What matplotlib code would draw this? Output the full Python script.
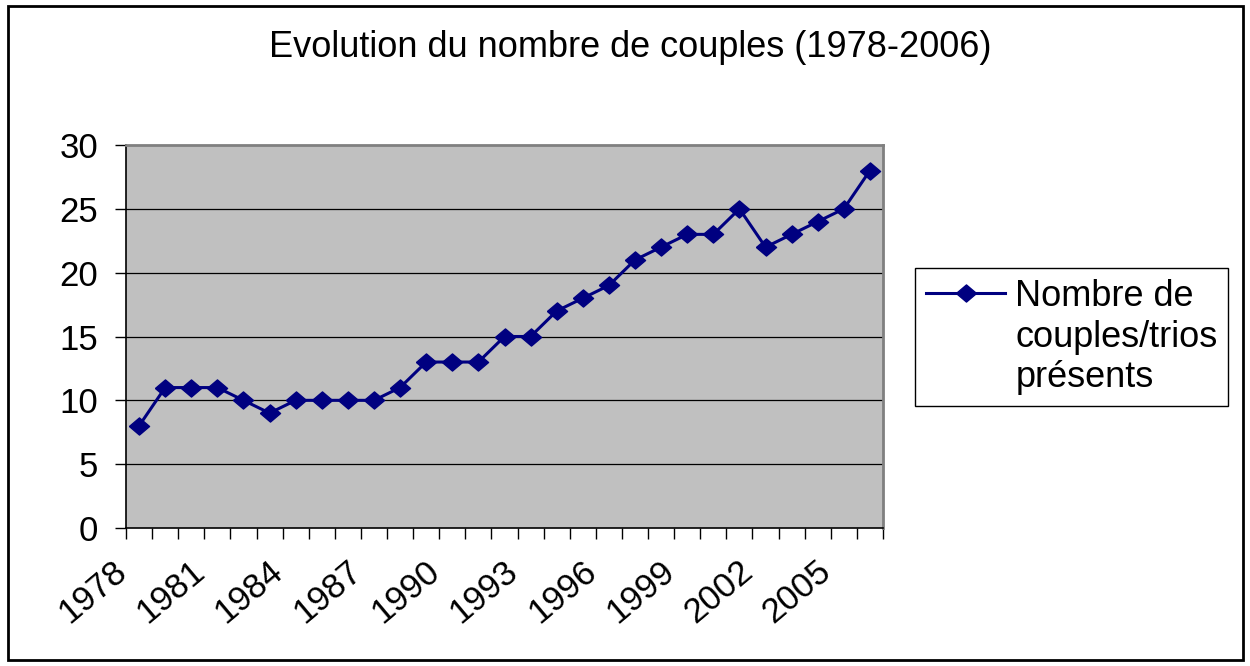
import numpy as np
import matplotlib.pyplot as plt
from matplotlib.patches import Rectangle
from matplotlib.lines import Line2D
from matplotlib.transforms import ScaledTranslation

plt.rcParams['font.family'] = ['Liberation Sans', 'DejaVu Sans']

#<---------------------------- Donnees ---------------------------->
annees = list(range(1978, 2007))
couples = [8, 11, 11, 11, 10, 9, 10, 10, 10, 10, 11, 13, 13, 13, 15, 15,
           17, 18, 19, 21, 22, 23, 23, 25, 22, 23, 24, 25, 28]
annees_label = [str(a) for a in annees[::3]]
titre = "Evolution du nombre de couples (1978-2006)"
legende = ["Nombre de", "couples/trios", "présents"]

bleu = "#000080"
losange = [(-1, 0), (0, 0.85), (1, 0), (0, -0.85), (-1, 0)]

fig = plt.figure(figsize=(12.5, 6.66), dpi=100)
ax = fig.add_axes([126/1250, 1-528/666, (883-126)/1250, (528-145)/666])
ax.set_facecolor("#C0C0C0")

x = np.arange(len(annees))
ax.plot(x, couples, color=bleu, lw=2.2, marker=losange, ms=14.5,
        mec=bleu, mfc=bleu, zorder=3)

#<---------------------------- Axes ---------------------------->
ax.set_xlim(-0.5, len(annees) - 0.5)
ax.set_ylim(0, 30)
ax.set_yticks(np.arange(0, 31, 5))
ax.set_xticks(np.arange(-0.5, len(annees), 1))
ax.set_xticklabels([])
ax.tick_params(axis="x", length=8, width=1, direction="out")
ax.tick_params(axis="y", length=8, width=1, labelsize=25, pad=12)
# etiquettes des annees (tous les 3 ans), decalees comme dans Excel
decal = ax.get_xaxis_transform() + ScaledTranslation(-0.17, -0.39, fig.dpi_scale_trans)
for xi, lab in zip(x[::3], annees_label):
    ax.text(xi, 0, lab, transform=decal, rotation=40, ha="right", va="center",
            rotation_mode="anchor", fontsize=25)
for y in range(5, 30, 5):
    ax.axhline(y, color="black", lw=0.9, zorder=1)
for s in ["top", "right"]:
    ax.spines[s].set_color("#808080")
    ax.spines[s].set_linewidth(2)
for s in ["left", "bottom"]:
    ax.spines[s].set_color("black")
    ax.spines[s].set_linewidth(1.2)

fig.text(0.504, 0.928, titre, ha="center", va="center", fontsize=26)

#<---------------------------- Legende ---------------------------->
handles = [Line2D([], [], color=bleu, lw=2.2, marker=losange, ms=14.5, mfc=bleu, mec=bleu),
           Line2D([], [], color="none"), Line2D([], [], color="none")]
leg = fig.legend(handles, legende, loc="upper left", bbox_to_anchor=(915/1250, 1-268/666),
                 fontsize=26, fancybox=False, edgecolor="black", framealpha=1,
                 handlelength=2.2, borderpad=0.3, labelspacing=0.16, handletextpad=0.28,
                 borderaxespad=0)
leg.get_frame().set_linewidth(1)

#<---------------------------- Cadre exterieur ---------------------------->
fig.patches.append(Rectangle((8/1250, 6/666), (1243-8)/1250, (660-6)/666,
                             transform=fig.transFigure, fill=False,
                             edgecolor="black", lw=2))

plt.savefig("out.png", dpi=100)
